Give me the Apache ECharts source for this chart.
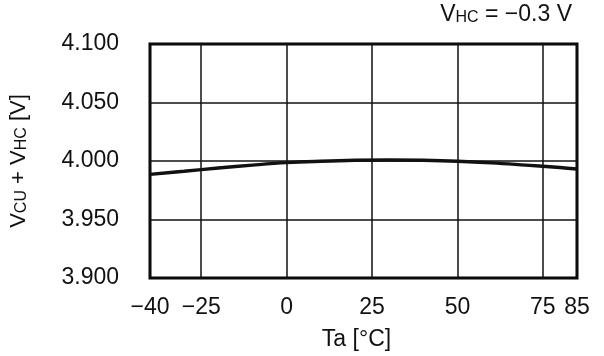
<!DOCTYPE html>
<html><head><meta charset="utf-8">
<script src="https://cdn.jsdelivr.net/npm/echarts@6/dist/echarts.min.js"></script>
<style>html,body{margin:0;padding:0;background:#fff}#c{width:604px;height:356px}</style>
</head><body><div id="c"></div>
<script>
const temps = [-40, -30, -20, -10, 0, 10, 20, 30, 40, 50, 60, 70, 80, 85];
const vcuPlusVhc = [3.9886, 3.9912, 3.9940, 3.9965, 3.9986, 3.9998, 4.0006, 4.0009, 4.0006, 3.9998, 3.9984, 3.9965, 3.9945, 3.9932];
const xTicks = [-40, -25, 0, 25, 50, 75, 85];
const yTicks = [3.9, 3.95, 4.0, 4.05, 4.1];

const FONT = '"Liberation Sans", Arial, sans-serif';
const fmtX = v => (v < 0 ? '\u2212' + Math.abs(v) : String(v));

const chart = echarts.init(document.getElementById('c'), null, {renderer: 'canvas'});
chart.setOption({
  animation: false,
  backgroundColor: '#fff',
  textStyle: {fontFamily: FONT},
  title: {
    text: '{v|V}{s|HC}{v| = \u22120.3 V}',
    right: 27, top: -7,
    textStyle: {
      fontWeight: 'normal',
      rich: {
        v: {fontFamily: FONT, fontSize: 23, fontWeight: 'normal', color: '#111', verticalAlign: 'bottom', lineHeight: 28},
        s: {fontFamily: FONT, fontSize: 16, fontWeight: 'normal', color: '#111', verticalAlign: 'bottom', lineHeight: 23}
      }
    }
  },
  grid: {left: 149, right: 27, top: 44, bottom: 78, show: true, borderColor: '#000', borderWidth: 3, backgroundColor: 'transparent'},
  xAxis: {
    type: 'value', min: -40, max: 85,
    axisLine: {show: false}, axisTick: {show: false}, splitLine: {show: false},
    axisLabel: {customValues: xTicks, formatter: fmtX, fontSize: 23, color: '#111', margin: 18, fontFamily: FONT},
    name: 'Ta [\u00B0C]', nameLocation: 'middle', nameGap: 50,
    nameTextStyle: {fontSize: 23, color: '#111', fontFamily: FONT, padding: [0, 14, 0, 0]}
  },
  yAxis: {
    type: 'value', min: 3.9, max: 4.1, interval: 0.05,
    axisLine: {show: false}, axisTick: {show: false},
    splitLine: {show: true, lineStyle: {color: '#111', width: 1.5}},
    axisLabel: {formatter: v => v.toFixed(3), fontSize: 23, color: '#111', margin: 31, fontFamily: FONT},
    name: '{v|V}{s|CU}{v| + V}{s|HC}{v| [V]}', nameLocation: 'middle', nameGap: 120,
    nameTextStyle: {
      rich: {
        v: {fontFamily: FONT, fontSize: 22, color: '#111', verticalAlign: 'bottom', lineHeight: 26},
        s: {fontFamily: FONT, fontSize: 16, color: '#111', verticalAlign: 'bottom', lineHeight: 22}
      }
    }
  },
  series: [{
    type: 'line', data: temps.map((t, i) => [t, vcuPlusVhc[i]]),
    smooth: 0.4, symbol: 'none', z: 5,
    lineStyle: {color: '#111', width: 3.4},
    markLine: {
      silent: true, symbol: 'none', label: {show: false},
      lineStyle: {color: '#111', width: 1.5, type: 'solid'},
      data: xTicks.map(v => ({xAxis: v}))
    }
  }]
});
</script></body></html>
